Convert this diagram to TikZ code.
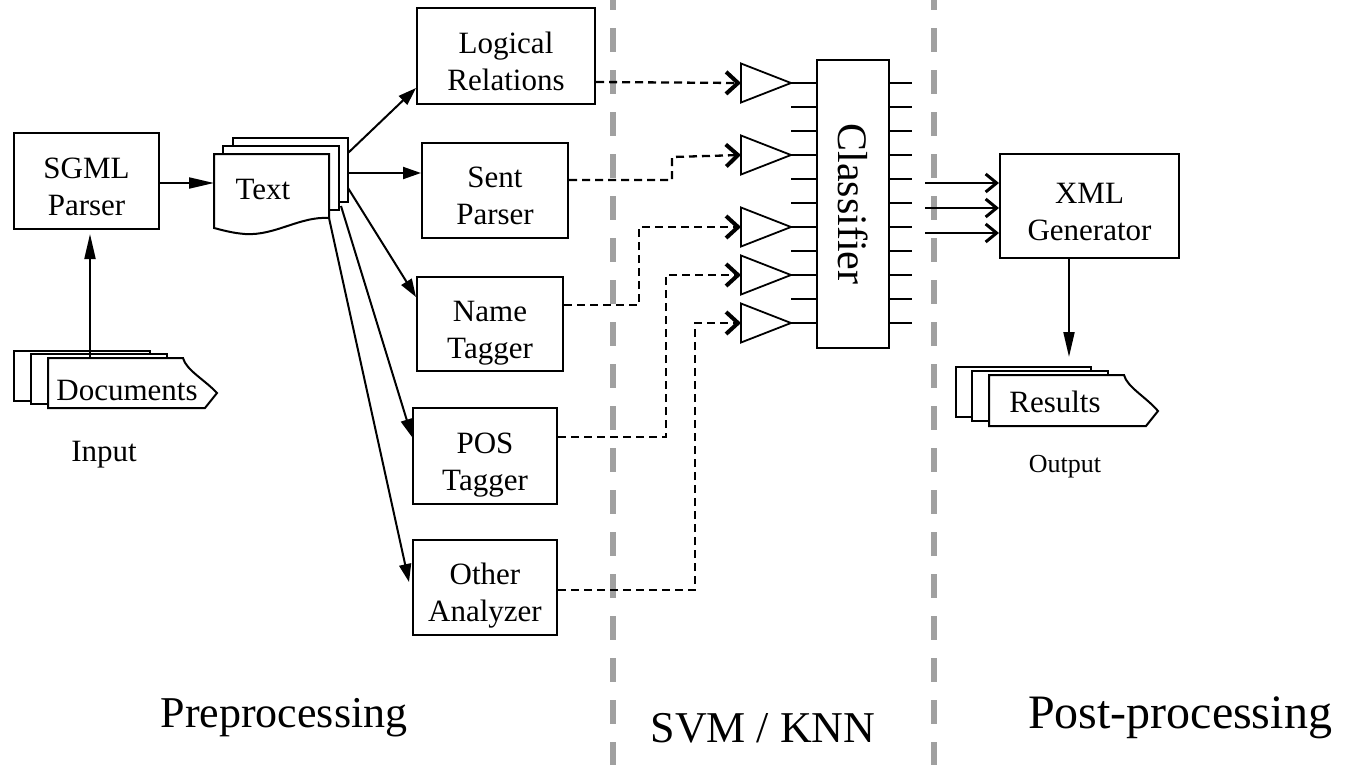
\documentclass[tikz,border=0pt]{standalone}
\usepackage{fontspec}
\setmainfont{Liberation Serif}
\usetikzlibrary{arrows.meta}
\definecolor{dividergray}{RGB}{160,160,160}
% two centred lines, set slightly below the middle of their box
\newcommand\twoline[2]{\raisebox{-8.5pt}[\height][\depth]{\begin{tabular}{@{}c@{}}#1\\#2\end{tabular}}}

\begin{document}
\begin{tikzpicture}[x=1pt,y=-1pt,
  every node/.style={font=\fontsize{31}{37}\selectfont},
  box/.style={draw, line width=2pt, inner sep=0pt, fill=white},
  sheet/.style={draw, line width=2pt, fill=white, line join=miter},
  flow/.style={line width=2pt, -{Triangle[length=18pt,width=12pt]}},
  flowlong/.style={line width=2pt, -{Triangle[length=25pt,width=11pt]}},
  sig/.style={line width=2.3pt, dash pattern=on 8pt off 5pt, -{Straight Barb[length=12pt,width=22pt,line width=4pt]}},
  busarrow/.style={line width=2pt, -{Straight Barb[length=11pt,width=18pt,line width=3pt]}},
  pinline/.style={line width=2pt},
  amp/.style={line width=1.8pt, fill=white},
  divider/.style={line width=6pt, draw=dividergray, dash pattern=on 24pt off 18pt},
  big/.style={font=\fontsize{44}{52}\selectfont}
]
\fill[white] (0,0) rectangle (1352,764);
\useasboundingbox (0,0) rectangle (1352,764);

% stage dividers
\draw[divider] (613,-14) -- (613,780);
\draw[divider] (934,-14) -- (934,780);

% preprocessing boxes
\node[box, minimum width=145pt, minimum height=96pt] (sgml) at (86.5,181) {\twoline{SGML}{Parser}};
\node[box, minimum width=178pt, minimum height=96pt] (logic) at (506,56) {\twoline{Logical}{Relations}};
\node[box, minimum width=146pt, minimum height=95pt] (sent) at (495,190.5) {\twoline{Sent}{Parser}};
\node[box, minimum width=146pt, minimum height=94pt] (name) at (490,324) {\twoline{Name}{Tagger}};
\node[box, minimum width=144pt, minimum height=96pt] (pos) at (485,456) {\twoline{POS}{Tagger}};
\node[box, minimum width=144pt, minimum height=95pt] (other) at (485,587.5) {\twoline{Other}{Analyzer}};

% input documents stack
\draw[sheet] (14,351) rectangle (150,401);
\draw[sheet] (31,354) rectangle (167,404);
\draw[sheet] (48,358) -- (183,358) .. controls (186,370) and (205,380) .. (217,393)
  -- (205,408) -- (48,408) -- cycle;
\node (docs) at (127,390) {Documents};
\coordinate (docstop) at (90,358);
\node (input) at (104,455) {Input};

% text stack
\draw[sheet] (233,138) rectangle (348,202);
\draw[sheet] (223,146) rectangle (339,210);
\draw[sheet] (214,154) -- (329,154) -- (329,218)
  .. controls (300,216) and (275,236) .. (245,234)
  .. controls (232,233) and (222,230) .. (214,228) -- cycle;
\node (text) at (263,189) {Text};
\coordinate (textin) at (214,183);
\coordinate (tA) at (348,153);
\coordinate (tB) at (348,173);
\coordinate (tC) at (348,188);
\coordinate (tD) at (341,206);
\coordinate (tE) at (329,218);

\draw[flowlong] (docstop) -- ([yshift=-4pt]docstop |- sgml.south);
\draw[flowlong] (sgml.east |- textin) -- (textin);
\draw[flow] (tA) -- (logic.west |- 0,88);
\draw[flow] (tB) -- (sent.west |- tB);
\draw[flow] (tC) -- (name.west |- 0,297);
\draw[flow] (tD) -- (pos.west |- 0,437);
\draw[flow] (tE) -- (409,582);

% amplifier stages and classifier
\foreach \c/\n in {83/1,155/2,227/3,275/4,323/5} {
  \draw[amp] (741,\c-19.5) -- (791,\c) -- (741,\c+19.5) -- cycle;
  \coordinate (in\n) at (741,\c);
}
\foreach \k in {0,...,10} {
  \draw[pinline] (791,83+24*\k) -- (817,83+24*\k);
  \draw[pinline] (889,83+24*\k) -- (912,83+24*\k);
}
\node[box, rotate=-90, minimum width=288pt, minimum height=72pt,
  font=\fontsize{42}{50}\selectfont] (clf) at (853,204) {Classifier};

% feature signals
\draw[sig] (logic.east |- 0,82) -- (in1);
\draw[sig] (sent.east |- 0,180) -| (672,157) -- (in2);
\draw[sig] (name.east |- 0,305) -| (639,227) -- (in3);
\draw[sig] (pos.east |- 0,437) -| (666,275) -- (in4);
\draw[sig] (other.east |- 0,590) -| (695,323) -- (in5);

% post-processing
\node[box, minimum width=179pt, minimum height=104pt] (xml) at (1089.5,206) {\twoline{XML}{Generator}};
\foreach \yy in {183,208,233}
  \draw[busarrow] (925,\yy) -- (xml.west |- 0,\yy);

\draw[sheet] (956,367) rectangle (1091,417);
\draw[sheet] (972,371) rectangle (1108,421);
\draw[sheet] (989,375) -- (1124,375) .. controls (1127,387) and (1146,397) .. (1158,411)
  -- (1146,426) -- (989,426) -- cycle;
\node (results) at (1055,402) {Results};
\coordinate (resin) at (1069,357);
\draw[flowlong] (resin |- xml.south) -- (resin);
\node[font=\fontsize{26}{31}\selectfont] (output) at (1065,467) {Output};

% stage titles
\node[big] (pre) at (284,718) {Preprocessing};
\node[big] (svm) at (763,728) {SVM / KNN};
\node[big, font=\fontsize{48}{56}\selectfont] (post) at (1180,718) {Post-processing};
\end{tikzpicture}
\end{document}
